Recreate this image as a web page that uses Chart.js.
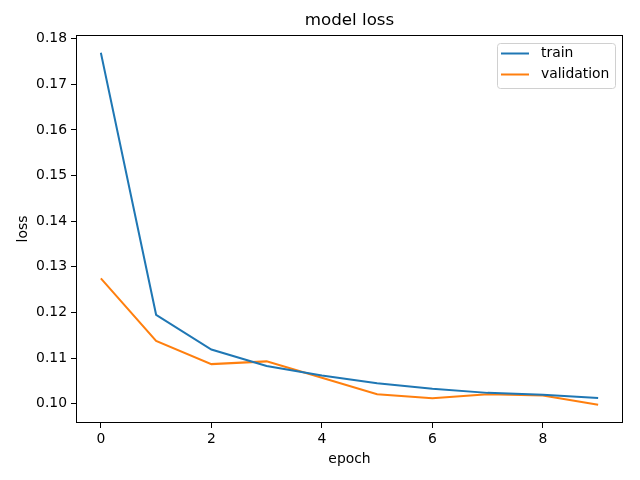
<!DOCTYPE html>
<html>
<head>
<meta charset="utf-8">
<script src="https://cdn.jsdelivr.net/npm/chart.js@4.4.0/dist/chart.umd.min.js"></script>
<style>
  html, body { margin: 0; padding: 0; background: #fff; }
  #c { display: block; }
</style>
</head>
<body>
<canvas id="c" width="640" height="480"></canvas>
<script>
// epochs and losses
var epochs = [0, 1, 2, 3, 4, 5, 6, 7, 8, 9];
var train = [0.1769, 0.1195, 0.1119, 0.1083, 0.1062, 0.1045, 0.1033, 0.1024, 0.1020, 0.1013];
var validation = [0.1275, 0.1138, 0.1087, 0.1093, 0.1057, 0.1021, 0.1012, 0.1021, 0.1018, 0.0998];
var xTicks = [0, 2, 4, 6, 8];
var yTicks = [0.10, 0.11, 0.12, 0.13, 0.14, 0.15, 0.16, 0.17, 0.18];

var FONT = 'DejaVu Sans';

function pts(ys) {
  return epochs.map(function (e, i) { return { x: e, y: ys[i] }; });
}

// frame + title + matplotlib-like legend inside the axes
var mplDeco = {
  id: 'mplDeco',
  afterDraw: function (chart) {
    var ctx = chart.ctx, a = chart.chartArea;
    ctx.save();
    ctx.strokeStyle = '#000';
    ctx.lineWidth = 1;
    ctx.strokeRect(a.left + 0.5, a.top + 0.5, a.right - a.left - 1, a.bottom - a.top - 1);

    ctx.fillStyle = '#000';
    ctx.font = '16.7px "' + FONT + '"';
    ctx.textAlign = 'center';
    ctx.textBaseline = 'middle';
    ctx.fillText('model loss', (a.left + a.right) / 2, 21);

    // legend
    var bx = 497, by = 43, bw = 118, bh = 45;
    ctx.fillStyle = 'rgba(255,255,255,0.8)';
    ctx.strokeStyle = '#d0d0d0';
    ctx.beginPath();
    if (ctx.roundRect) ctx.roundRect(bx + 0.5, by + 0.5, bw, bh, 3); else ctx.rect(bx + 0.5, by + 0.5, bw, bh);
    ctx.fill();
    ctx.stroke();
    ctx.font = '13.9px "' + FONT + '"';
    ctx.textAlign = 'left';
    chart.data.datasets.forEach(function (ds, i) {
      var yy = 53.5 + i * 21;
      ctx.strokeStyle = ds.borderColor;
      ctx.lineWidth = 2;
      ctx.beginPath();
      ctx.moveTo(501, yy);
      ctx.lineTo(529, yy);
      ctx.stroke();
      ctx.fillStyle = '#000';
      ctx.fillText(ds.label, 541, yy);
    });
    ctx.restore();
  }
};

new Chart(document.getElementById('c'), {
  type: 'line',
  data: {
    datasets: [
      { label: 'train', data: pts(train), borderColor: '#1f77b4', backgroundColor: '#1f77b4', borderWidth: 2, pointRadius: 0, tension: 0, fill: false },
      { label: 'validation', data: pts(validation), borderColor: '#ff7f0e', backgroundColor: '#ff7f0e', borderWidth: 2, pointRadius: 0, tension: 0, fill: false }
    ]
  },
  options: {
    responsive: false,
    animation: false,
    layout: { padding: { left: 0, right: 17, top: 35, bottom: 0 } },
    plugins: {
      legend: { display: false },
      title: { display: false },
      tooltip: { enabled: false }
    },
    scales: {
      x: {
        type: 'linear',
        min: -0.45,
        max: 9.45,
        afterBuildTicks: function (s) { s.ticks = xTicks.map(function (v) { return { value: v }; }); },
        afterFit: function (s) { s.height = 57; },
        grid: { display: true, drawOnChartArea: false, drawTicks: true, tickLength: 5, color: '#000' },
        border: { display: false },
        ticks: { color: '#000', font: { family: FONT, size: 13.9 }, padding: 3, maxRotation: 0 },
        title: { display: true, text: 'epoch', color: '#000', font: { family: FONT, size: 13.9 }, padding: { top: 0, bottom: 12 } }
      },
      y: {
        type: 'linear',
        min: 0.0958,
        max: 0.1808,
        afterBuildTicks: function (s) { s.ticks = yTicks.map(function (v) { return { value: v }; }); },
        afterFit: function (s) { s.width = 76; },
        grid: { display: true, drawOnChartArea: false, drawTicks: true, tickLength: 5, color: '#000' },
        border: { display: false },
        ticks: { color: '#000', font: { family: FONT, size: 13.9 }, padding: 4, callback: function (v) { return v.toFixed(2); } },
        title: { display: true, text: 'loss', color: '#000', font: { family: FONT, size: 13.9 }, padding: { top: 15, bottom: 0 } }
      }
    }
  },
  plugins: [mplDeco]
});
</script>
</body>
</html>
